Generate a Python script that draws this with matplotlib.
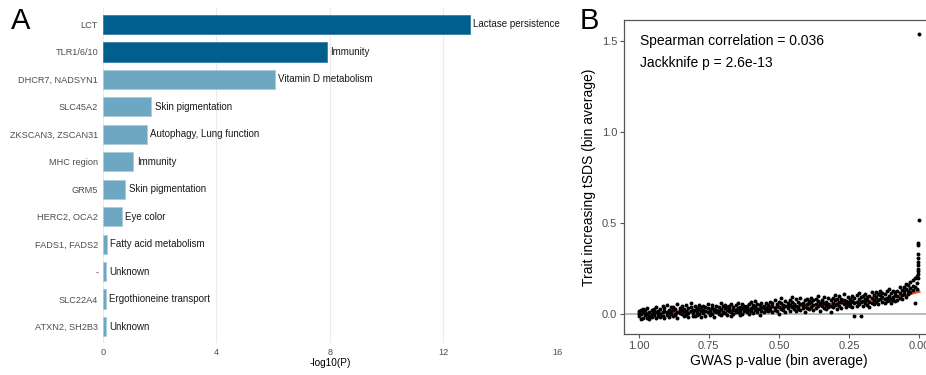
import numpy as np
import matplotlib.pyplot as plt

plt.rcParams['font.family'] = ['Liberation Sans', 'DejaVu Sans']

# panel A: loci, -log10(P), trait
genes = ['LCT', 'TLR1/6/10', 'DHCR7, NADSYN1', 'SLC45A2', 'ZKSCAN3, ZSCAN31',
         'MHC region', 'GRM5', 'HERC2, OCA2', 'FADS1, FADS2', '-', 'SLC22A4',
         'ATXN2, SH2B3']
logp = [12.93, 7.9, 6.05, 1.70, 1.55, 1.07, 0.79, 0.66, 0.13, 0.10, 0.10, 0.10]
traits = ['Lactase persistence', 'Immunity', 'Vitamin D metabolism', 'Skin pigmentation',
          'Autophagy, Lung function', 'Immunity', 'Skin pigmentation', 'Eye color',
          'Fatty acid metabolism', 'Unknown', 'Ergothioneine transport', 'Unknown']
significant = [True, True, False, False, False, False, False, False, False, False, False, False]

# panel B: bin average GWAS p-value vs bin average tSDS (3 bins per p position)
p_bins = [1.000, 0.992, 0.985, 0.977, 0.969, 0.962, 0.954, 0.946, 0.938, 0.931,
          0.923, 0.915, 0.908, 0.900, 0.892, 0.885, 0.877, 0.869, 0.862, 0.854,
          0.846, 0.838, 0.831, 0.823, 0.815, 0.808, 0.800, 0.792, 0.785, 0.777,
          0.769, 0.762, 0.754, 0.746, 0.738, 0.731, 0.723, 0.715, 0.708, 0.700,
          0.692, 0.685, 0.677, 0.669, 0.662, 0.654, 0.646, 0.638, 0.631, 0.623,
          0.615, 0.608, 0.600, 0.592, 0.585, 0.577, 0.569, 0.562, 0.554, 0.546,
          0.538, 0.531, 0.523, 0.515, 0.508, 0.500, 0.492, 0.485, 0.477, 0.469,
          0.462, 0.454, 0.446, 0.438, 0.431, 0.423, 0.415, 0.408, 0.400, 0.392,
          0.385, 0.377, 0.369, 0.362, 0.354, 0.346, 0.338, 0.331, 0.323, 0.315,
          0.308, 0.300, 0.292, 0.285, 0.277, 0.269, 0.262, 0.254, 0.246, 0.238,
          0.231, 0.223, 0.215, 0.208, 0.200, 0.192, 0.185, 0.177, 0.169, 0.162,
          0.154, 0.146, 0.138, 0.131, 0.123, 0.115, 0.108, 0.100, 0.092, 0.085,
          0.077, 0.069, 0.062, 0.054, 0.046, 0.038, 0.031, 0.023, 0.015, 0.008]
tsds = [
    [0.018, -0.012, 0.004], [0.002, 0.025, -0.025], [-0.018, 0.011, 0.030], [0.008, -0.006, 0.022],
    [0.035, -0.020, 0.000], [-0.008, 0.014, -0.028], [0.026, 0.003, -0.014], [-0.004, 0.031, 0.012],
    [0.010, -0.022, 0.040], [0.020, -0.010, 0.006],
    [0.003, 0.028, -0.015], [0.045, 0.010, -0.008], [-0.020, 0.018, 0.032], [0.014, -0.004, 0.050],
    [0.026, -0.016, 0.006], [0.000, 0.038, 0.017], [-0.012, 0.022, 0.042], [0.030, 0.004, -0.006],
    [0.015, 0.055, -0.018], [0.036, 0.008, 0.021],
    [0.002, 0.044, 0.024], [0.028, -0.010, 0.012], [0.050, 0.016, -0.004], [0.006, 0.034, -0.016],
    [0.040, 0.019, 0.060], [-0.008, 0.026, 0.009], [0.022, 0.047, -0.012], [0.012, -0.002, 0.035],
    [0.030, 0.052, 0.004], [-0.014, 0.018, 0.038],
    [0.024, 0.006, 0.045], [0.040, -0.008, 0.016], [0.010, 0.032, 0.058], [-0.006, 0.027, 0.014],
    [0.036, 0.002, 0.050], [0.018, -0.016, 0.030], [0.048, 0.012, 0.024], [0.000, 0.038, 0.020],
    [0.028, -0.004, 0.062], [0.014, 0.044, 0.008],
    [0.034, 0.006, 0.052], [-0.002, 0.024, 0.040], [0.046, 0.016, 0.030], [0.012, 0.058, -0.008],
    [0.038, 0.022, 0.004], [0.026, 0.050, 0.014], [0.060, 0.010, 0.034], [0.018, 0.042, -0.004],
    [0.032, 0.002, 0.054], [0.044, 0.020, 0.028],
    [0.012, 0.048, 0.030], [0.056, 0.026, 0.004], [0.036, 0.066, 0.018], [0.008, 0.040, 0.052],
    [0.044, 0.022, 0.072], [0.028, 0.058, 0.010], [0.050, 0.030, -0.004], [0.020, 0.062, 0.040],
    [0.046, 0.014, 0.034], [0.064, 0.036, 0.024],
    [0.030, 0.052, 0.016], [0.070, 0.040, 0.024], [0.010, 0.048, 0.062], [0.036, 0.078, 0.026],
    [0.056, 0.020, 0.044], [0.042, 0.066, 0.004], [0.060, 0.030, 0.090], [0.022, 0.052, 0.038],
    [0.074, 0.044, 0.012], [0.034, 0.062, 0.050],
    [0.050, 0.020, 0.080], [0.066, 0.038, 0.096], [0.028, 0.058, 0.044], [0.084, 0.048, 0.016],
    [0.040, 0.070, 0.030], [0.058, 0.024, 0.088], [0.036, 0.064, 0.052], [0.076, 0.046, 0.010],
    [0.054, 0.086, 0.034], [0.030, 0.060, 0.072],
    [0.068, 0.040, 0.090], [0.050, 0.078, 0.026], [0.086, 0.058, 0.036], [0.044, 0.072, 0.102],
    [0.062, 0.018, 0.054], [0.080, 0.048, 0.066], [0.034, 0.064, 0.094], [0.070, 0.052, 0.028],
    [0.058, 0.088, 0.042], [0.076, 0.046, 0.010],
    [0.064, 0.092, 0.040], [0.050, 0.078, 0.104], [0.084, 0.056, 0.030], [0.070, 0.098, 0.048],
    [0.036, 0.066, 0.086], [0.080, 0.058, 0.110], [0.062, 0.040, 0.074], [0.094, 0.068, 0.052],
    [0.046, 0.082, 0.060], [0.072, 0.100, 0.038],
    [0.088, 0.060, -0.008], [0.070, 0.104, 0.046], [0.056, 0.084, 0.118], [0.096, 0.066, -0.012],
    [0.074, 0.048, 0.100], [0.086, 0.112, 0.062], [0.052, 0.078, 0.094], [0.100, 0.070, 0.040],
    [0.064, 0.092, 0.120], [0.080, 0.058, 0.104],
    [0.096, 0.070, 0.122], [0.078, 0.110, 0.054], [0.104, 0.084, 0.130], [0.066, 0.094, 0.116],
    [0.112, 0.082, 0.060], [0.090, 0.126, 0.072], [0.100, 0.076, 0.140], [0.084, 0.118, 0.064],
    [0.130, 0.096, 0.080], [0.106, 0.072, 0.124],
    [0.098, 0.130, 0.076], [0.118, 0.090, 0.148], [0.104, 0.136, 0.084], [0.150, 0.112, 0.130],
    [0.096, 0.140, 0.168], [0.126, 0.160, 0.110], [0.178, 0.142, 0.120], [0.156, 0.190, 0.134],
    [0.200, 0.150, 0.060], [0.172, 0.212, 0.140],
]
tail_p = [0.004, 0.004, 0.003, 0.003, 0.003, 0.003, 0.002, 0.002, 0.002, 0.002, 0.001, 0.001]
tail_tsds = [0.20, 0.22, 0.24, 0.25, 0.27, 0.29, 0.31, 0.33, 0.38, 0.39, 0.52, 1.54]

# smooth trend (red)
trend_p = [1.0, 0.9, 0.75, 0.6, 0.5, 0.4, 0.3, 0.2, 0.1, 0.05, 0.0]
trend_tsds = [0.004, 0.010, 0.020, 0.030, 0.040, 0.047, 0.058, 0.070, 0.088, 0.105, 0.125]

fig = plt.figure(figsize=(9.26, 3.75), dpi=100)

# ---------- A ----------
axA = fig.add_axes([0.1112, 0.0853, 0.4903, 0.8934])
ypos = np.arange(len(genes))[::-1]
cols = ['#005f8e' if s else '#6ea7c2' for s in significant]
edges = ['#3a7fa8' if s else '#a9cbdb' for s in significant]
axA.barh(ypos, logp, height=0.7, color=cols, edgecolor=edges, linewidth=0.6, zorder=2)
for y, v, t in zip(ypos, logp, traits):
    axA.annotate(t, (v, y), xytext=(2.5, 0), textcoords='offset points',
                 ha='left', va='center', fontsize=7, color='#1a1a1a')
axA.set_xlim(0, 16)
axA.set_ylim(-0.6, len(genes) - 0.4)
axA.set_xticks([0, 4, 8, 12, 16])
axA.set_yticks(ypos)
axA.set_yticklabels(genes)
axA.grid(axis='x', color='#ebebeb', linewidth=0.8, zorder=0)
axA.set_axisbelow(True)
for s in axA.spines.values():
    s.set_visible(False)
axA.tick_params(length=0, labelsize=6.6, labelcolor='#4d4d4d', pad=3.5)
axA.set_xlabel('-log10(P)', fontsize=7.2, labelpad=1)
fig.text(0.012, 0.945, 'A', fontsize=21, ha='left', va='center')

# ---------- B ----------
axB = fig.add_axes([0.6742, 0.1085, 0.3338, 0.8382])
axB.axhline(0, color='#b3b3b3', linewidth=1.3, zorder=1)
axB.plot(trend_p, trend_tsds, color='#f0502d', linewidth=2.0, zorder=2)
for p, ys in zip(p_bins, tsds):
    axB.scatter([p] * len(ys), ys, s=8, color='black', linewidths=0, zorder=3)
axB.scatter(tail_p, tail_tsds, s=8, color='black', linewidths=0, zorder=3)
axB.set_xlim(1.0513, -0.0513)
axB.set_ylim(-0.11, 1.617)
axB.set_xticks([1.0, 0.75, 0.5, 0.25, 0.0])
axB.set_xticklabels(['1.00', '0.75', '0.50', '0.25', '0.00'])
axB.set_yticks([0.0, 0.5, 1.0, 1.5])
axB.set_yticklabels(['0.0', '0.5', '1.0', '1.5'])
for s in axB.spines.values():
    s.set_color('#555555')
    s.set_linewidth(0.9)
axB.tick_params(length=3, width=0.8, color='#555555', labelsize=8, labelcolor='#4d4d4d', pad=2)
axB.set_xlabel('GWAS p-value (bin average)', fontsize=10, labelpad=2)
axB.set_ylabel('Trait increasing tSDS (bin average)', fontsize=10, labelpad=4)
axB.text(0.05, 0.955, 'Spearman correlation = 0.036', transform=axB.transAxes,
         fontsize=10, ha='left', va='top')
axB.text(0.05, 0.885, 'Jackknife p = 2.6e-13', transform=axB.transAxes,
         fontsize=10, ha='left', va='top')
fig.text(0.626, 0.945, 'B', fontsize=21, ha='left', va='center')

fig.savefig('out.png', dpi=100)
